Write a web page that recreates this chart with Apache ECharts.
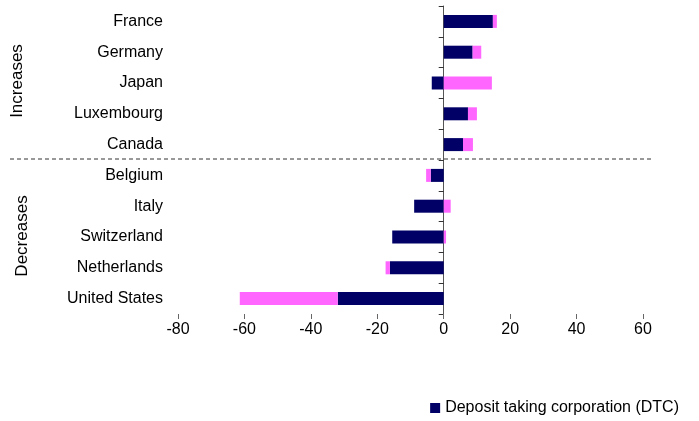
<!DOCTYPE html>
<html>
<head>
<meta charset="utf-8">
<script src="https://cdn.jsdelivr.net/npm/echarts@6/dist/echarts.min.js"></script>
<style>
  html, body { margin: 0; padding: 0; background: #fff; }
  #main { width: 699px; height: 421px; }
</style>
</head>
<body>
<div id="main"></div>
<script>
var countries = ['France', 'Germany', 'Japan', 'Luxembourg', 'Canada',
                 'Belgium', 'Italy', 'Switzerland', 'Netherlands', 'United States'];
var dtc = [14.8, 8.7, -3.6, 7.3, 5.8, -3.9, -8.9, -15.5, -16.2, -31.9];
var other = [1.2, 2.6, 14.5, 2.7, 3.0, -1.4, 2.1, 0.7, -1.3, -29.5];
var xTicks = [-80, -60, -40, -20, 0, 20, 40, 60];

(function () {
    var myChart = echarts.init(document.getElementById('main'));
    var font = 'Arial, "Liberation Sans", sans-serif';
    var option = {
        animation: false,
        textStyle: { fontFamily: font },
        grid: { left: 178, right: 56, top: 6, bottom: 107 },
        legend: {
            data: ['Deposit taking corporation (DTC)'],
            right: 15, bottom: 0,
            icon: 'rect',
            itemWidth: 10, itemHeight: 10, itemGap: 6,
            textStyle: { fontSize: 16, color: '#000', fontFamily: font }
        },
        xAxis: {
            type: 'value',
            min: xTicks[0],
            max: xTicks[xTicks.length - 1],
            interval: 20,
            splitLine: { show: false },
            axisLine: { onZero: false, lineStyle: { color: '#666' } },
            axisTick: { show: true, length: 5, lineStyle: { color: '#666' } },
            axisLabel: { color: '#000', fontSize: 16, margin: 8 }
        },
        yAxis: [
            {
                type: 'category',
                data: countries,
                inverse: true,
                axisLine: { show: false, onZero: false },
                axisTick: { show: false },
                axisLabel: { color: '#000', fontSize: 16, margin: 15 }
            },
            {
                type: 'category',
                data: countries,
                inverse: true,
                axisLine: { onZero: true, lineStyle: { color: '#555' } },
                axisTick: { show: true, inside: true, length: 5, lineStyle: { color: '#333' } },
                axisLabel: { show: false }
            }
        ],
        series: [
            {
                name: 'Deposit taking corporation (DTC)',
                type: 'bar',
                stack: 'total',
                barWidth: 13,
                itemStyle: { color: '#000066' },
                data: dtc
            },
            {
                name: 'Other',
                type: 'bar',
                stack: 'total',
                barWidth: 13,
                itemStyle: { color: '#ff66ff' },
                data: other
            }
        ]
    };
    myChart.setOption(option);

    // dashed divider between increases and decreases, plus group labels
    var yA = myChart.convertToPixel({ yAxisIndex: 0 }, 'Canada');
    var yB = myChart.convertToPixel({ yAxisIndex: 0 }, 'Belgium');
    var yTop = myChart.convertToPixel({ yAxisIndex: 0 }, 'France');
    var yBot = myChart.convertToPixel({ yAxisIndex: 0 }, 'United States');
    var yDiv = (yA + yB) / 2 - 1;
    myChart.setOption({
        graphic: [
            {
                type: 'line',
                shape: { x1: 10, y1: yDiv, x2: 651, y2: yDiv },
                style: { stroke: '#333', lineWidth: 1, lineDash: [4, 3] }
            },
            {
                type: 'text',
                x: 17, y: (yTop + yA) / 2 - 2,
                rotation: Math.PI / 2,
                style: { text: 'Increases', fontSize: 17, fontFamily: font, fill: '#000',
                         align: 'center', verticalAlign: 'middle' }
            },
            {
                type: 'text',
                x: 22, y: (yB + yBot) / 2 - 1,
                rotation: Math.PI / 2,
                style: { text: 'Decreases', fontSize: 17, fontFamily: font, fill: '#000',
                         align: 'center', verticalAlign: 'middle' }
            }
        ]
    });
})();
</script>
</body>
</html>
